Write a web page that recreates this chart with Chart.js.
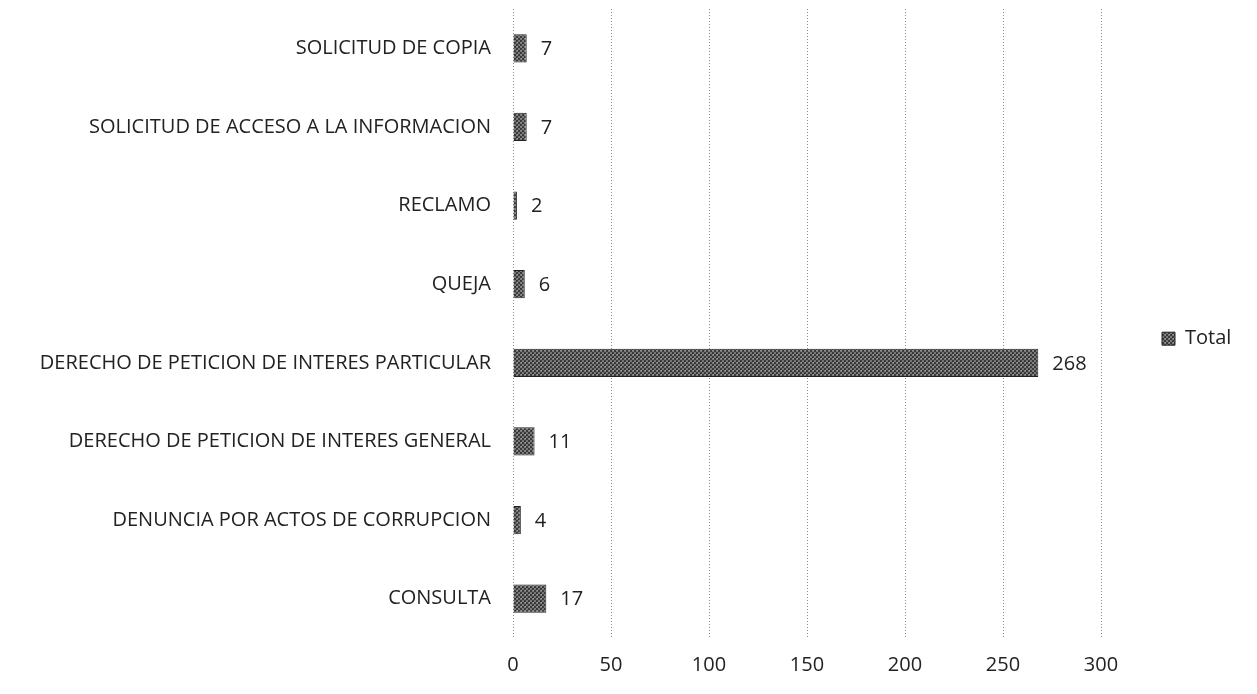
<!DOCTYPE html>
<html>
  <head>
    <meta charset="UTF-8">
    <title>Total por tipo</title>
    <script src="https://cdn.jsdelivr.net/npm/chart.js"></script>
    <style>
      body {
        margin: 0;
        background: white;
      }
    </style>
  </head>
  <body>
    <canvas id="myChart" width="1257" height="694"></canvas>

    <script>
      const categories = [
        "SOLICITUD DE COPIA",
        "SOLICITUD DE ACCESO A LA INFORMACION",
        "RECLAMO",
        "QUEJA",
        "DERECHO DE PETICION DE INTERES PARTICULAR",
        "DERECHO DE PETICION DE INTERES GENERAL",
        "DENUNCIA POR ACTOS DE CORRUPCION",
        "CONSULTA"
      ];
      const totals = [7, 7, 2, 6, 268, 11, 4, 17];
      const xTicks = [0, 50, 100, 150, 200, 250, 300];

      const fontFamily = "'Open Sans', 'DejaVu Sans', sans-serif";

      // grey speckled fill, like the scanned bars
      function makePattern() {
        const p = document.createElement("canvas");
        p.width = 4;
        p.height = 4;
        const c = p.getContext("2d");
        c.fillStyle = "#7a7a7a";
        c.fillRect(0, 0, 4, 4);
        c.fillStyle = "#3a3a3a";
        c.fillRect(0, 0, 2, 2);
        c.fillRect(2, 2, 2, 2);
        c.fillStyle = "#a0a0a0";
        c.fillRect(1, 2, 1, 1);
        return c.createPattern(p, "repeat");
      }
      const barFill = makePattern();

      const valueLabels = {
        id: "valueLabels",
        afterDatasetsDraw(chart) {
          const ctx = chart.ctx;
          const meta = chart.getDatasetMeta(0);
          ctx.save();
          ctx.font = "20px " + fontFamily;
          ctx.fillStyle = "#222";
          ctx.textAlign = "left";
          ctx.textBaseline = "middle";
          meta.data.forEach(function(bar, i) {
            ctx.fillText(String(totals[i]), bar.x + 14, bar.y + 1);
          });
          ctx.restore();
        }
      };

      const ctx = document.getElementById("myChart").getContext("2d");
      const myChart = new Chart(ctx, {
        type: "bar",
        data: {
          labels: categories,
          datasets: [{
            label: "Total",
            data: totals,
            backgroundColor: barFill,
            borderColor: "#222",
            borderWidth: 1,
            barPercentage: 0.36,
            categoryPercentage: 1
          }]
        },
        options: {
          indexAxis: "y",
          responsive: false,
          animation: false,
          layout: {
            padding: { left: 10, top: 9, bottom: 0, right: 0 }
          },
          scales: {
            x: {
              min: 0,
              max: 300,
              afterBuildTicks: function(scale) {
                scale.ticks = xTicks.map(function(v) { return { value: v }; });
              },
              afterFit: function(scale) {
                scale.height = 56;
                scale.paddingLeft = 0;
                scale.paddingRight = 0;
              },
              border: { display: false, dash: [1, 2] },
              grid: {
                color: "#8a8a8a",
                drawTicks: false
              },
              ticks: {
                padding: 15,
                color: "#222",
                font: { family: fontFamily, size: 20 }
              }
            },
            y: {
              afterFit: function(scale) {
                scale.width = 503;
                scale.paddingTop = 0;
                scale.paddingBottom = 0;
              },
              border: { display: false },
              grid: { display: false, drawTicks: false },
              ticks: {
                padding: 22,
                color: "#222",
                font: { family: fontFamily, size: 20 }
              }
            }
          },
          plugins: {
            legend: {
              position: "right",
              fullSize: false,
              // empty title only pushes the single entry a little lower
              title: { display: true, text: "", padding: 8 },
              labels: {
                boxWidth: 13,
                boxHeight: 13,
                padding: 61,
                color: "#222",
                font: { family: fontFamily, size: 20 }
              }
            },
            tooltip: { enabled: false }
          }
        },
        plugins: [valueLabels]
      });

      // keep the legend column a fixed width so the plot ends at 300
      const legendFit = myChart.legend.fit;
      myChart.legend.fit = function() {
        legendFit.call(this);
        this.width = 156;
      };
      myChart.update();
    </script>
  </body>
</html>
